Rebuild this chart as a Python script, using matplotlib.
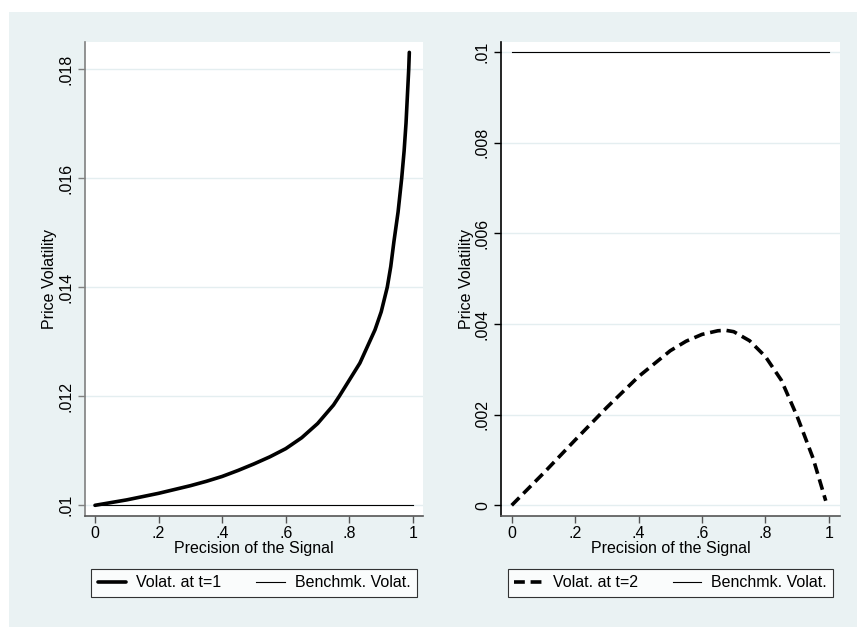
import matplotlib.pyplot as plt
from matplotlib.patches import Rectangle

plt.rcParams['font.family'] = ['Liberation Sans', 'DejaVu Sans']

# values
x_t1 = [0, .05, .1, .15, .2, .25, .3, .35, .4, .45, .5, .55, .6, .65, .7, .75,
        .768, .8, .833, .8805, .90, .919, .93, .940, .953, .9644, .972, .978,
        .9865, .9884]
vol_t1 = [.0100, .01005, .0101, .01016, .01022, .01029, .01036, .01044, .01053,
          .01064, .01076, .01089, .01104, .01124, .0115, .01184,
          .0120, .0123, .01261, .01322, .01355, .0140, .01438, .01484, .01538,
          .0160, .0165, .01701, .0180, .01831]

x_t2 = [0, .1, .2, .3, .4, .5, .55, .6, .65, .675, .7, .75, .8, .85, .9, .95, .99]
vol_t2 = [0, .000706, .00144, .00216, .00284, .00341, .00362, .00377, .00385,
          .00386, .00383, .00363, .00328, .00276, .00196, .00104, .0001]

x_bench = [0, 1]
bench = [.01, .01]

xticks = [0, .2, .4, .6, .8, 1]
xtick_labels = ['0', '.2', '.4', '.6', '.8', '1']
yticks_left = [.010, .012, .014, .016, .018]
ytick_labels_left = ['.01', '.012', '.014', '.016', '.018']
yticks_right = [0, .002, .004, .006, .008, .010]
ytick_labels_right = ['0', '.002', '.004', '.006', '.008', '.01']

bg = '#EAF2F3'
fs = 11.5
W, H = 857, 627
fig = plt.figure(figsize=(W / 100, H / 100), dpi=100, facecolor='white')
fig.patches.append(Rectangle((9 / W, 0), 1, 1 - 12 / H, transform=fig.transFigure,
                             facecolor=bg, edgecolor='none', zorder=-10))


def panel(rect, ylim, xlim, yticks, ylabels, spine_col, label_x):
    ax = fig.add_axes(rect)
    ax.set_facecolor('white')
    ax.set_xlim(*xlim)
    ax.set_ylim(*ylim)
    ax.set_xticks(xticks)
    ax.set_xticklabels(xtick_labels)
    ax.set_yticks(yticks)
    ax.set_yticklabels(ylabels, rotation=90, va='center')
    ax.tick_params(length=5, width=1, pad=3, labelsize=fs, colors='black')
    ax.tick_params(axis='x', pad=2, color='#555555')
    ax.tick_params(axis='y', color=spine_col)
    for s in ['top', 'right']:
        ax.spines[s].set_visible(False)
    ax.spines['left'].set_color(spine_col)
    ax.spines['bottom'].set_color('#555555')
    ax.spines['left'].set_linewidth(1.2)
    ax.spines['bottom'].set_linewidth(1.2)
    ax.grid(axis='y', color='#E4EEF0', linewidth=1.0)
    ax.set_axisbelow(True)
    ax.set_xlabel('Precision of the Signal', fontsize=fs, labelpad=0)
    ax.set_ylabel('Price Volatility', fontsize=fs)
    ax.yaxis.set_label_coords(label_x, 0.5)
    return ax


def add_legend(ax, handles):
    leg = ax.legend(handles=handles, ncol=2, loc='center', bbox_to_anchor=(0.5, -0.141),
                    frameon=True, fancybox=False, edgecolor='black', fontsize=fs,
                    handlelength=1.8, columnspacing=2.2, borderpad=0.4,
                    handletextpad=0.6, borderaxespad=0)
    leg.get_frame().set_linewidth(0.8)


ax1 = panel([85 / W, 1 - 516 / H, 338 / W, 474 / H], (0.009804, 0.0185),
            (-0.0314, 1.0314), yticks_left, ytick_labels_left, '#808080', -0.083)
l1, = ax1.plot(x_t1, vol_t1, color='black', linewidth=2.6, solid_capstyle='round',
               solid_joinstyle='round', label='Volat. at t=1')
b1, = ax1.plot(x_bench, bench, color='black', linewidth=0.8, label='Benchmk. Volat.')
add_legend(ax1, [l1, b1])

ax2 = panel([501 / W, 1 - 516 / H, 339 / W, 474 / H], (-0.000236, 0.01022),
            (-0.0337, 1.035), yticks_right, ytick_labels_right, 'black', -0.08)
l2, = ax2.plot(x_t2, vol_t2, color='black', linewidth=2.6, dashes=(3, 1.6),
               label='Volat. at t=2')
b2, = ax2.plot(x_bench, bench, color='black', linewidth=0.8, label='Benchmk. Volat.')
add_legend(ax2, [l2, b2])

fig.savefig('out.png', dpi=100, facecolor='white')
